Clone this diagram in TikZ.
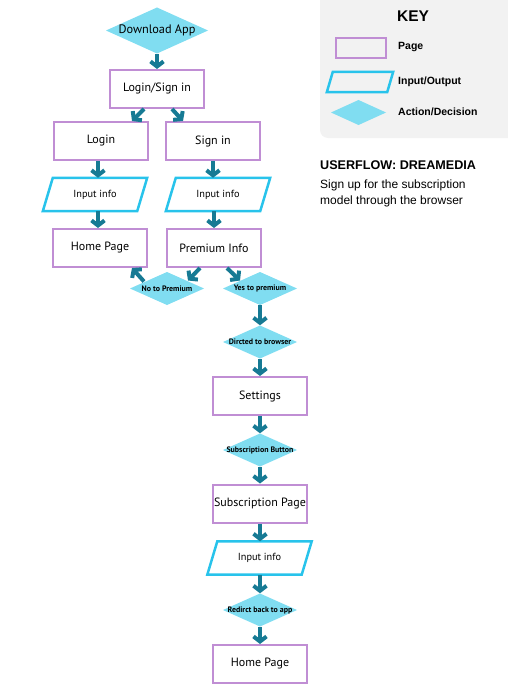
\documentclass[tikz,border=0pt]{standalone}
\usepackage{fontspec}
\setmainfont{PT Sans}
\newfontfamily\keyfont{Liberation Sans}
\usetikzlibrary{arrows.meta,calc}
\definecolor{pagec}{RGB}{192,142,212}
\definecolor{ioc}{RGB}{40,195,235}
\definecolor{diac}{RGB}{128,221,241}
\definecolor{arrc}{RGB}{22,122,148}
\definecolor{keybg}{RGB}{242,242,242}
\begin{document}
\begin{tikzpicture}[x=1pt,y=-1pt,
 page/.style={draw=pagec, line width=2pt, fill=white, minimum width=94pt, minimum height=38pt, inner sep=0pt, font=\fontsize{12}{14}\selectfont},
 io/.style={minimum width=94pt, minimum height=33pt, inner sep=0pt, font=\fontsize{10.3}{12}\selectfont},
 dia/.style={minimum width=74pt, minimum height=33pt, inner sep=0pt, font=\bfseries\fontsize{7.9}{9}\selectfont,
   path picture={\fill[diac] (path picture bounding box.west) -- (path picture bounding box.north) -- (path picture bounding box.east) -- (path picture bounding box.south) -- cycle;}},
 iol/.style={draw=ioc, line width=2.5pt},
 arr/.style={draw=arrc, line width=4pt, -{Straight Barb[length=5pt,width=13pt]}},
 keylab/.style={anchor=west, inner sep=0pt, font=\keyfont\bfseries\fontsize{10.5}{12}\selectfont},
]
\useasboundingbox (0,0) rectangle (507,698);
% key panel
\fill[keybg, rounded corners=8pt] (320,-10) rectangle (520,138);
\node[inner sep=0pt, font=\keyfont\bfseries\fontsize{15.5}{17}\selectfont] (keyt) at (413,16) {KEY};
\node[draw=pagec, line width=2pt, minimum width=50pt, minimum height=20pt, inner sep=0pt] (kpage) at (361,48) {};
\node[keylab] (kpl) at (398,47) {Page};
\node[minimum width=60pt, minimum height=20pt, inner sep=0pt] (kio) at (360,82) {};
\draw[iol] ($(kio.north west)+(3,0)$) -- ($(kio.north east)+(3,0)$) -- ($(kio.south east)+(-3,0)$) -- ($(kio.south west)+(-3,0)$) -- cycle;
\node[keylab] (kiol) at (398,82) {Input/Output};
\node[dia, minimum width=55pt, minimum height=25pt] (kdia) at (358.5,112.5) {};
\node[keylab] (kdl) at (398,112) {Action/Decision};
\node[anchor=west, inner sep=0pt, font=\keyfont\bfseries\fontsize{12.6}{15}\selectfont] (title) at (320,165) {USERFLOW: DREAMEDIA};
\node[anchor=west, inner sep=0pt, align=left, font=\keyfont\fontsize{12}{16}\selectfont] (desc) at (320,193) {Sign up for the subscription\\model through the browser};
% flow
\node[dia, minimum width=102pt, minimum height=46pt, font=\fontsize{12.3}{14}\selectfont] (dl) at (157,30.5) {Download App};
\node[page] (ls) at (157,89) {Login/Sign in};
\node[page] (login) at (101,141) {Login};
\node[page] (sign) at (213,141) {Sign in};
\node[io] (in1) at (95,194.5) {Input info};
\node[io] (in2) at (218,194.5) {Input info};
\node[page] (home1) at (100,248) {Home Page};
\node[page] (prem) at (214,248) {Premium Info};
\node[dia] (nop) at (167,288.5) {No to Premium};
\node[dia] (yes) at (260,288.5) {Yes to premium};
\node[dia] (dir) at (260,342) {Dircted to browser};
\node[page] (set) at (260,396) {Settings};
\node[dia] (sub) at (260,450) {Subscription Button};
\node[page] (subp) at (260,503.5) {Subscription Page};
\node[io] (in3) at (259.5,558) {Input info};
\node[dia] (redir) at (260,610) {Redirct back to app};
\node[page] (home2) at (260,664) {Home Page};
\foreach \n in {in1,in2,in3}
  \draw[iol] ($(\n.north west)+(5,0)$) -- ($(\n.north east)+(5,0)$) -- ($(\n.south east)+(-5,0)$) -- ($(\n.south west)+(-5,0)$) -- cycle;
% connectors
\draw[arr] (dl.south) -- (ls.north);
\draw[arr] ($(ls.south)+(-13,0)$) -- ($(login.north)+(31,0)$);
\draw[arr] ($(ls.south)+(15,0)$) -- ($(sign.north)+(-30,0)$);
\draw[arr] ($(login.south)+(-3,0)$) -- ($(login.south |- in1.north)+(-3,0)$);
\draw[arr] (sign.south) -- (sign.south |- in2.north);
\draw[arr] ($(home1.north |- in1.south)+(-2,0)$) -- ($(home1.north)+(-2,0)$);
\draw[arr] (prem.north |- in2.south) -- (prem.north);
\draw[arr] ($(prem.south)+(-14,0)$) -- ($(nop.center)+(21,-8)$);
\draw[arr] ($(prem.south)+(13,0)$) -- ($(yes.center)+(-20,-8)$);
\draw[arr] ($(nop.center)+(-23,-7)$) -- ($(home1.south)+(32,0)$);
\draw[arr] (yes.south) -- (dir.north);
\draw[arr] (dir.south) -- (set.north);
\draw[arr] (set.south) -- (sub.north);
\draw[arr] (sub.south) -- (subp.north);
\draw[arr] (subp.south) -- (subp.south |- in3.north);
\draw[arr] (in3.south -| redir.north) -- (redir.north);
\draw[arr] (redir.south) -- (home2.north);
\end{tikzpicture}
\end{document}
